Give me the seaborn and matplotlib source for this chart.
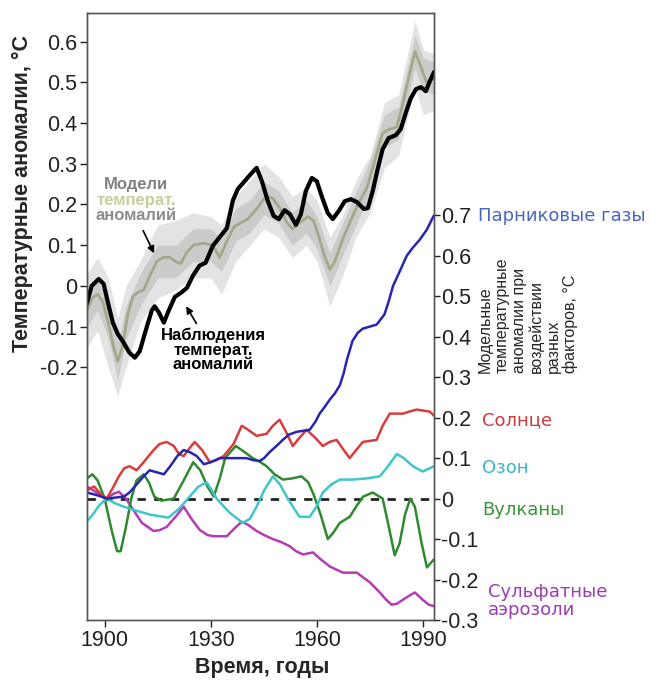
import numpy as np
import pandas as pd
import matplotlib
matplotlib.use("Agg")
import matplotlib.pyplot as plt
import seaborn as sns

# Observed temperature anomalies (left axis)
obs_years = [1894.9, 1896.3, 1898.3, 1899.7, 1900.8, 1902.3, 1903.7, 1905.4, 1907, 1908.5,
             1909.9, 1911.9, 1913.3, 1914.1, 1915.3, 1916.7, 1918.1, 1919.8, 1921.5, 1923.2,
             1924.9, 1926.8, 1928.5, 1930.5, 1932.5, 1934.5, 1936.2, 1937.6, 1939.5, 1941.5,
             1942.9, 1944.4, 1946, 1947.7, 1949.2, 1950.8, 1952.3, 1954, 1955.4, 1956.8,
             1958.5, 1959.9, 1961.3, 1963, 1964.4, 1966.1, 1967.8, 1969.5, 1971.2, 1973.2,
             1974.3, 1975.7, 1977.1, 1978.5, 1980.2, 1982.2, 1983.6, 1985, 1986.4, 1987.9,
             1989.3, 1990.7, 1991.8, 1993]
obs_vals = [-0.045, 0.0, 0.017, 0.005, -0.037, -0.09, -0.118, -0.14, -0.164, -0.176,
            -0.16, -0.10, -0.06, -0.05, -0.065, -0.09, -0.06, -0.027, -0.017, -0.005,
            0.025, 0.05, 0.057, 0.098, 0.12, 0.142, 0.21, 0.238, 0.257, 0.277,
            0.29, 0.257, 0.21, 0.172, 0.164, 0.186, 0.176, 0.15, 0.176, 0.233,
            0.265, 0.257, 0.22, 0.179, 0.164, 0.184, 0.208, 0.213, 0.206, 0.189,
            0.191, 0.233, 0.287, 0.336, 0.363, 0.37, 0.385, 0.424, 0.46, 0.483,
            0.488, 0.478, 0.502, 0.525]

# Model temperature anomalies (left axis)
mod_years = [1895, 1896.5, 1898, 1899.5, 1901, 1902.5, 1903.7, 1905, 1906.5, 1908,
             1909.5, 1911, 1913, 1914.7, 1916.5, 1918.4, 1920, 1921.5, 1923, 1925,
             1928, 1930.5, 1932.5, 1934.5, 1936.5, 1938.5, 1940.5, 1943, 1945.5, 1947.5,
             1949.5, 1951.5, 1953, 1955, 1957.4, 1959, 1960.5, 1962, 1963.6, 1965,
             1967, 1969.2, 1971.5, 1974, 1976, 1978.5, 1980.5, 1982.5, 1984, 1985.3,
             1986.5, 1987.6, 1989, 1990.9, 1993]
mod_vals = [-0.06, -0.03, -0.02, -0.04, -0.09, -0.15, -0.185, -0.15, -0.07, -0.025,
            -0.015, -0.01, 0.03, 0.06, 0.07, 0.07, 0.06, 0.055, 0.08, 0.10,
            0.105, 0.10, 0.07, 0.11, 0.145, 0.155, 0.165, 0.19, 0.22, 0.215,
            0.19, 0.155, 0.14, 0.155, 0.17, 0.16, 0.12, 0.075, 0.04, 0.06,
            0.11, 0.155, 0.20, 0.24, 0.30, 0.375, 0.385, 0.39, 0.44, 0.49,
            0.535, 0.575, 0.545, 0.50, 0.51]

# Model spread envelopes (left axis)
band_years = [1895, 1898, 1901, 1903.7, 1906, 1910, 1915, 1920, 1925, 1930,
              1933, 1937, 1941, 1945, 1949, 1953, 1957, 1960, 1963.6, 1967,
              1971, 1975, 1979, 1983, 1987.6, 1990, 1993]
band_hi = [0.03, 0.07, 0.02, -0.08, 0.0, 0.06, 0.15, 0.16, 0.18, 0.17,
           0.15, 0.22, 0.26, 0.30, 0.27, 0.22, 0.24, 0.21, 0.12, 0.17,
           0.26, 0.32, 0.45, 0.47, 0.65, 0.58, 0.57]
band_lo = [-0.15, -0.11, -0.20, -0.27, -0.20, -0.09, -0.03, -0.01, 0.02, 0.02,
           -0.02, 0.06, 0.10, 0.14, 0.12, 0.07, 0.10, 0.06, -0.05, 0.02,
           0.12, 0.18, 0.29, 0.32, 0.49, 0.42, 0.43]
inner_hi = [-0.02, 0.02, -0.05, -0.14, -0.05, 0.03, 0.10, 0.10, 0.14, 0.14,
            0.115, 0.19, 0.21, 0.255, 0.235, 0.18, 0.21, 0.17, 0.08, 0.15,
            0.23, 0.31, 0.42, 0.44, 0.615, 0.56, 0.55]
inner_lo = [-0.10, -0.06, -0.13, -0.23, -0.13, -0.05, 0.02, 0.02, 0.06, 0.06,
            0.035, 0.11, 0.13, 0.175, 0.155, 0.10, 0.13, 0.09, 0.0, 0.07,
            0.15, 0.23, 0.34, 0.36, 0.535, 0.48, 0.47]

# Forcing components (right axis)
ghg_years = [1895, 1898, 1900.6, 1905.4, 1907, 1909, 1911, 1912.7, 1914.7, 1916.7,
             1918.5, 1920.5, 1922.3, 1924, 1926, 1928, 1930, 1932.5, 1937.3, 1940,
             1942, 1943.8, 1945, 1946.6, 1948.5, 1950.3, 1952, 1954.2, 1957.9, 1959.5,
             1960.7, 1962, 1963.6, 1965, 1966.4, 1967.5, 1968.4, 1970, 1971.5, 1972.9,
             1976.8, 1979, 1980.3, 1981.4, 1983.5, 1985.3, 1987, 1989, 1991, 1992.4, 1993]
ghg_vals = [0.015, 0.008, 0.0, 0.005, 0.015, 0.035, 0.055, 0.07, 0.065, 0.06,
            0.08, 0.105, 0.12, 0.115, 0.105, 0.085, 0.09, 0.10, 0.10, 0.10,
            0.095, 0.093, 0.10, 0.115, 0.13, 0.145, 0.158, 0.165, 0.17, 0.19,
            0.21, 0.225, 0.245, 0.26, 0.28, 0.31, 0.343, 0.39, 0.41, 0.42,
            0.43, 0.455, 0.49, 0.525, 0.565, 0.60, 0.62, 0.64, 0.665, 0.69, 0.70]

sol_years = [1895, 1897, 1899, 1900.6, 1902.5, 1904, 1905.5, 1907, 1909, 1911,
             1913.8, 1915.5, 1917.5, 1919.5, 1921, 1922.3, 1924, 1925.4, 1927.5, 1929.7,
             1931.5, 1933.6, 1936.4, 1938.7, 1940.5, 1942.9, 1945.7, 1947.5, 1949.4, 1951.5,
             1953.1, 1955, 1957, 1959.5, 1961.6, 1963.5, 1965.5, 1967.5, 1969.2, 1971,
             1972.9, 1976.8, 1978.5, 1980.5, 1984.2, 1986, 1988.1, 1991.8, 1993]
sol_vals = [0.02, 0.03, 0.01, 0.0, 0.03, 0.055, 0.075, 0.08, 0.07, 0.09,
            0.12, 0.135, 0.14, 0.13, 0.11, 0.105, 0.125, 0.14, 0.12, 0.09,
            0.095, 0.105, 0.135, 0.18, 0.17, 0.155, 0.16, 0.18, 0.195, 0.16,
            0.13, 0.15, 0.17, 0.15, 0.13, 0.14, 0.145, 0.12, 0.10, 0.12,
            0.14, 0.145, 0.18, 0.21, 0.21, 0.215, 0.22, 0.215, 0.205]

oz_years = [1895, 1897, 1898.6, 1900.6, 1903, 1905.4, 1909, 1913, 1918, 1921,
            1924, 1926.5, 1928.8, 1930.3, 1931.6, 1935.3, 1937.5, 1939, 1941, 1942.9,
            1945, 1947.5, 1949.5, 1951.4, 1953.5, 1955, 1957.9, 1959.8, 1961.6, 1964,
            1966.4, 1970.1, 1974, 1977.7, 1980, 1982.5, 1984.5, 1987, 1989.8, 1993]
oz_vals = [-0.057, -0.035, -0.015, 0.0, -0.012, -0.02, -0.03, -0.04, -0.047, -0.025,
           0.005, 0.03, 0.04, 0.02, 0.0, -0.035, -0.05, -0.06, -0.05, -0.02,
           0.02, 0.055, 0.035, 0.005, -0.025, -0.045, -0.045, -0.02, 0.015, 0.035,
           0.047, 0.047, 0.05, 0.055, 0.08, 0.11, 0.10, 0.08, 0.067, 0.08]

volc_years = [1895, 1896.5, 1898, 1900, 1902, 1903.5, 1904.5, 1906, 1907.5, 1909,
              1911, 1912.5, 1914, 1916, 1919.5, 1922, 1925, 1927, 1929, 1930.8,
              1932.5, 1934, 1937, 1939.5, 1941.8, 1944, 1945.7, 1948, 1950.3, 1953,
              1955.6, 1957.5, 1959, 1961, 1963, 1964.5, 1966.4, 1969.2, 1971, 1973,
              1975.7, 1978.5, 1980, 1981.9, 1983.3, 1984.8, 1986.3, 1987.6, 1989.5, 1991, 1993]
volc_vals = [0.05, 0.06, 0.045, 0.0, -0.08, -0.13, -0.13, -0.07, 0.0, 0.045,
             0.06, 0.04, 0.005, -0.005, 0.0, 0.04, 0.09, 0.07, 0.03, 0.005,
             0.05, 0.10, 0.13, 0.115, 0.10, 0.09, 0.08, 0.06, 0.047, 0.05,
             0.055, 0.04, 0.01, -0.04, -0.10, -0.085, -0.06, -0.045, -0.02, 0.005,
             0.015, 0.0, -0.06, -0.14, -0.11, -0.04, 0.0, -0.02, -0.11, -0.17, -0.15]

sulf_years = [1895, 1897.7, 1900.6, 1902.5, 1904, 1906, 1908, 1910.5, 1913.8, 1915.5,
              1917.5, 1920, 1922.3, 1924.5, 1926.8, 1929, 1930.8, 1934.5, 1936.5, 1938.7,
              1940.5, 1942.9, 1945, 1947.5, 1950, 1952.3, 1954, 1956, 1958.8, 1961,
              1963.6, 1967.3, 1971.2, 1973, 1974.9, 1977.7, 1979.5, 1981, 1982.5, 1984.2,
              1986, 1987.6, 1989.8, 1991.5, 1993]
sulf_vals = [0.03, 0.015, 0.0, 0.012, 0.017, 0.0, -0.027, -0.06, -0.08, -0.078,
             -0.07, -0.045, -0.02, -0.05, -0.077, -0.09, -0.093, -0.093, -0.075, -0.057,
             -0.065, -0.08, -0.09, -0.10, -0.108, -0.118, -0.13, -0.138, -0.133, -0.15,
             -0.168, -0.183, -0.183, -0.195, -0.207, -0.232, -0.25, -0.262, -0.26, -0.25,
             -0.24, -0.232, -0.25, -0.262, -0.266]

left_ticks = [-0.2, -0.1, 0, 0.1, 0.2, 0.3, 0.4, 0.5, 0.6]
left_labels = ["-0.2", "-0.1", "0", "0.1", "0.2", "0.3", "0.4", "0.5", "0.6"]
right_ticks = [-0.3, -0.2, -0.1, 0, 0.1, 0.2, 0.3, 0.4, 0.5, 0.6, 0.7]
right_labels = ["-0.3", "-0.2", "-0.1", "0", "0.1", "0.2", "0.3", "0.4", "0.5", "0.6", "0.7"]
x_ticks = [1900, 1930, 1960, 1990]

sns.set_style("ticks")
plt.rcParams["font.family"] = ["Liberation Sans", "DejaVu Sans"]

W, H = 651, 684
fig = plt.figure(figsize=(W / 100, H / 100), dpi=100)
ax = fig.add_axes([87 / W, 1 - 620 / H, (434 - 87) / W, (620 - 13) / H])
ax2 = ax.twinx()

# model spread
ax.fill_between(band_years, band_lo, band_hi, color="#e3e3e3", lw=0)
ax.fill_between(band_years, inner_lo, inner_hi, color="#cbcbcb", lw=0)
sns.lineplot(x=mod_years, y=mod_vals, ax=ax, color="#a6a68a", lw=2)
sns.lineplot(x=obs_years, y=obs_vals, ax=ax, color="black", lw=3)

# forcing components
ax2.axhline(0, color="#222222", lw=2, ls=(0, (3, 3)))
series = [(sulf_years, sulf_vals, "#b53cb5"),
          (volc_years, volc_vals, "#2f8a2f"),
          (oz_years, oz_vals, "#3fc6c9"),
          (sol_years, sol_vals, "#d83c3c"),
          (ghg_years, ghg_vals, "#2626b0")]
for xs, ys, c in series:
    sns.lineplot(x=xs, y=ys, ax=ax2, color=c, lw=1.8)

ax.set_xlim(1895, 1993)
ax.set_ylim(-0.82, 0.67)
ax2.set_ylim(-0.3, 1.2)
ax.set_xticks(x_ticks)
ax.set_xticklabels([str(t) for t in x_ticks])
ax.set_yticks(left_ticks)
ax.set_yticklabels(left_labels)
ax2.set_yticks(right_ticks)
ax2.set_yticklabels(right_labels)
ax.set_xlabel("")
ax.set_ylabel("")
ax2.set_ylabel("")

for a in (ax, ax2):
    a.tick_params(direction="out", length=5, width=1, labelsize=15.5,
                  colors="#222222", pad=2)
    for s in a.spines.values():
        s.set_visible(True)
        s.set_color("#555555")
        s.set_linewidth(1)
ax2.tick_params(axis="y", length=4, pad=1)

# axis titles
fig.text(22 / W, 1 - 193 / H, "Температурные аномалии, °C", rotation=90,
         ha="center", va="center", fontsize=15.5, fontweight="bold")
fig.text(262 / W, 1 - 667 / H, "Время, годы", ha="center", va="center",
         fontsize=15.5, fontweight="bold")
fig.text(478 / W, 1 - 373 / H,
         "Модельные\nтемпературные\nаномалии при\nвоздействии\nразных\nфакторов, °C",
         rotation=90, ha="left", va="bottom", multialignment="left",
         fontsize=11.5, linespacing=1.15)

# component labels
lab = dict(family="DejaVu Sans", fontsize=13, va="center")
fig.text(478 / W, 1 - 216 / H, "Парниковые газы", color="#4a64c4", **lab)
fig.text(482 / W, 1 - 420 / H, "Солнце", color="#cc3b3b", **lab)
fig.text(482 / W, 1 - 468 / H, "Озон", color="#38b8c8", **lab)
fig.text(482 / W, 1 - 510 / H, "Вулканы", color="#3a943a", **lab)
fig.text(488 / W, 1 - 601 / H, "Сульфатные\nаэрозоли", color="#9b3bb0",
         linespacing=1.0, **lab)

# curve annotations
note = dict(fontsize=12, fontweight="bold", ha="center", va="center")
fig.text(136 / W, 1 - 185 / H, "Модели", color="#808080", **note)
fig.text(136 / W, 1 - 200 / H, "температ.", color="#c9cd9c", **note)
fig.text(136 / W, 1 - 215 / H, "аномалий", color="#8c8c8c", **note)
fig.text(213 / W, 1 - 335 / H, "Наблюдения", color="black", **note)
fig.text(213 / W, 1 - 350 / H, "температ.", color="black", **note)
fig.text(213 / W, 1 - 365 / H, "аномалий", color="black", **note)

arrow = dict(arrowstyle="-|>", color="black", lw=1.2, mutation_scale=10)
ax.annotate("", xy=(1914.3, 0.074), xytext=(1910.5, 0.142), arrowprops=arrow)
ax.annotate("", xy=(1922.6, -0.044), xytext=(1926.3, -0.098), arrowprops=arrow)

fig.savefig("out.png", dpi=100, facecolor="white")
